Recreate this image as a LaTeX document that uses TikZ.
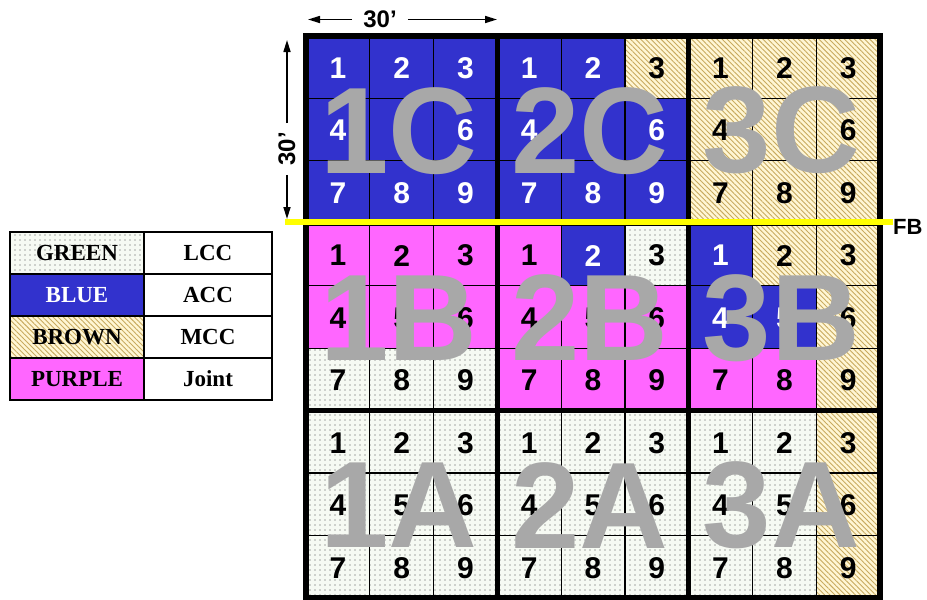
\documentclass[tikz,border=0pt]{standalone}
\usepackage{fontspec}
\setmainfont{Liberation Serif}
\setsansfont{Liberation Sans}
\usetikzlibrary{patterns.meta,arrows.meta}
\definecolor{accblue}{RGB}{50,50,205}
\definecolor{jointpink}{RGB}{255,102,255}
\definecolor{mccbg}{RGB}{255,246,212}
\definecolor{mccline}{RGB}{200,170,95}
\definecolor{lccbg}{RGB}{246,250,243}
\definecolor{biggray}{RGB}{168,168,168}
\definecolor{fbyellow}{RGB}{255,255,0}
\def\cellw{63.78}
\def\cellh{62.44}
\newcommand{\gridblock}[4]{%
  \foreach \tp [count=\k from 0] in {#4} {
    \pgfmathtruncatemacro{\cx}{mod(\k,3)}
    \pgfmathtruncatemacro{\cy}{div(\k,3)}
    \pgfmathsetmacro{\xa}{306+(3*#1+\cx)*\cellw}
    \pgfmathsetmacro{\ya}{36+(3*#2+\cy)*\cellh}
    \pgfmathtruncatemacro{\nn}{\k+1}
    \path[cell\tp] (\xa,\ya) rectangle ++(\cellw,\cellh);
    \node[num, num\tp] (n#3-\nn) at (\xa+\cellw/2,\ya+\cellh/2+1) {\nn};
  }%
}
\begin{document}
\begin{tikzpicture}[x=1pt,y=-1pt,
  cellb/.style={fill=accblue},
  cellp/.style={fill=jointpink},
  cellg/.style={fill=lccbg,postaction={pattern={Dots[distance=5pt,radius=0.55pt]},pattern color=black!70}},
  cellr/.style={fill=mccbg,postaction={pattern={Lines[angle=-45,distance=3.6pt,line width=0.9pt]},pattern color=mccline}},
  num/.style={font=\sffamily\bfseries\fontsize{30}{30}\selectfont,inner sep=0pt},
  numb/.style={text=white},
  numr/.style={text=black},
  nump/.style={text=black},
  numg/.style={text=black},
  biglabel/.style={font=\sffamily\bfseries\fontsize{123}{123}\selectfont,text=biggray,inner sep=0pt},
  thinline/.style={line width=1.2pt,black},
  blockline/.style={line width=5pt,black},
  legtext/.style={font=\bfseries\fontsize{23}{23}\selectfont,inner sep=0pt},
  dimlabel/.style={font=\sffamily\bfseries\fontsize{24}{24}\selectfont,inner ysep=0pt},
  dimarrow/.style={line width=1.6pt,-{Triangle[length=12pt,width=7pt]}}
]
\useasboundingbox (0,0) rectangle (927,600);
\fill[white] (0,0) rectangle (927,600);

% cells and numbers
\gridblock{0}{0}{1C}{b,b,b,b,b,b,b,b,b}
\gridblock{1}{0}{2C}{b,b,r,b,b,b,b,b,b}
\gridblock{2}{0}{3C}{r,r,r,r,r,r,r,r,r}
\gridblock{0}{1}{1B}{p,p,p,p,p,p,g,g,g}
\gridblock{1}{1}{2B}{p,b,g,p,p,p,p,p,p}
\gridblock{2}{1}{3B}{b,r,r,b,b,r,p,p,r}
\gridblock{0}{2}{1A}{g,g,g,g,g,g,g,g,g}
\gridblock{1}{2}{2A}{g,g,g,g,g,g,g,g,g}
\gridblock{2}{2}{3A}{g,g,r,g,g,r,g,g,r}

% grid lines
\foreach \i in {1,2,4,5,7,8} {
  \draw[thinline] (306+\i*\cellw,36) -- (306+\i*\cellw,36+9*\cellh);
  \draw[thinline] (306,36+\i*\cellh) -- (306+9*\cellw,36+\i*\cellh);
}
\foreach \i in {3,6} {
  \draw[blockline] (306+\i*\cellw,36) -- (306+\i*\cellw,36+9*\cellh);
  \draw[blockline] (306,36+\i*\cellh) -- (306+9*\cellw,36+\i*\cellh);
}
\draw[line width=6pt] (306,36) rectangle (306+9*\cellw,36+9*\cellh);

% big block labels
\foreach \lab/\c/\r in {1C/0/0,2C/1/0,3C/2/0,1B/0/1,2B/1/1,3B/2/1,1A/0/2,2A/1/2,3A/2/2} {
  \node[biglabel] (big\lab) at ({306+(3*\c+1.5)*\cellw-3},{36+(3*\r+1.5)*\cellh+1}) {\lab};
}

% FB line
\coordinate (fbL) at (285,222);
\coordinate (fbR) at (893,222);
\draw[line width=6pt,fbyellow] (fbL) -- (fbR);
\node[font=\sffamily\bfseries\fontsize{22}{22}\selectfont,anchor=west,inner sep=0pt] (fb) at (893,227) {FB};

% dimensions
\node[dimlabel,inner xsep=11pt] (dimh) at (380,19.5) {30’};
\coordinate (dimhL) at (308,19.5);
\coordinate (dimhR) at (497,19.5);
\draw[dimarrow] (dimh) -- (dimhL);
\draw[dimarrow] (dimh) -- (dimhR);
\node[dimlabel,rotate=90,inner xsep=9pt] (dimv) at (287,149) {30’};
\coordinate (dimvT) at (287,40);
\coordinate (dimvB) at (287,219);
\draw[dimarrow] (dimv) -- (dimvT);
\draw[dimarrow] (dimv) -- (dimvB);

% legend
\path[cellg] (10,232) rectangle (144,274);
\path[cellb] (10,274) rectangle (144,316);
\path[cellr] (10,316) rectangle (144,358);
\path[cellp] (10,358) rectangle (144,400);
\draw[line width=1.5pt] (144,232) -- (144,400);
\foreach \yy in {274,316,358} { \draw[line width=1.5pt] (10,\yy) -- (272,\yy); }
\draw[line width=2.5pt] (10,232) rectangle (272,400);
\node[legtext] (lgA) at (77,253) {GREEN};
\node[legtext,text=white] (lgB) at (77,295) {BLUE};
\node[legtext] (lgC) at (77,337) {BROWN};
\node[legtext] (lgD) at (77,379) {PURPLE};
\node[legtext] (lgE) at (208,253) {LCC};
\node[legtext] (lgF) at (208,295) {ACC};
\node[legtext] (lgG) at (208,337) {MCC};
\node[legtext] (lgH) at (208,379) {Joint};
\end{tikzpicture}
\end{document}
